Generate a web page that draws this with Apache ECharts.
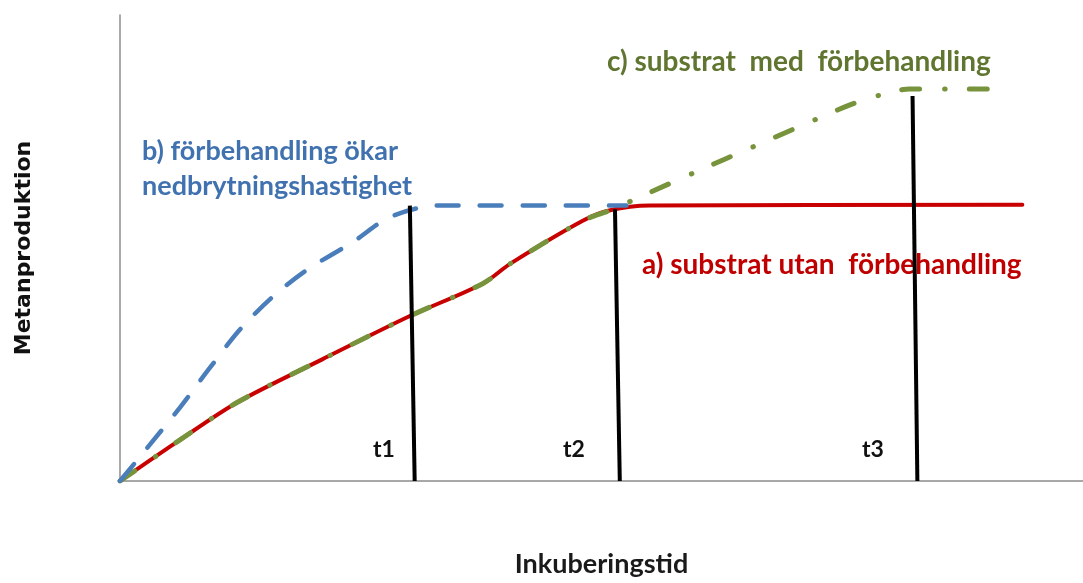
<!DOCTYPE html>
<html>
<head>
<meta charset="utf-8">
<script src="https://cdn.jsdelivr.net/npm/echarts@6/dist/echarts.min.js"></script>
<style>html,body{margin:0;padding:0;background:#fff;overflow:hidden}#c{width:1083px;height:583px}</style>
</head>
<body>
<div id="c"></div>
<script>
// a) substrat utan förbehandling (red)
const redX = [0, 6, 12.2, 21, 30.1, 37.7, 40.5, 48.1, 50.9, 55.0, 93.7];
const redY = [0, 8.5, 16.9, 26.1, 35.4, 42.4, 46.6, 55.9, 58.1, 59.1, 59.3];
// b) förbehandling ökar nedbrytningshastighet (blue)
const blueX = [0, 3.1, 6.2, 9.3, 12.5, 15.9, 19.4, 24.2, 28.0, 32.9, 52.6];
const blueY = [0, 7.8, 15.7, 24.2, 32.6, 39.6, 45.3, 51.3, 56.6, 59.1, 59.1];
// c) substrat med förbehandling (green)
const greenX = [0, 6, 12.2, 21, 30.1, 37.7, 40.5, 48.1, 50.9, 55.0, 60.2, 65.4, 70.6, 75.8, 78.9, 82.0, 91.6];
const greenY = [0, 8.5, 16.9, 26.1, 35.4, 42.4, 46.6, 55.9, 58.1, 61.9, 66.7, 71.4, 76.1, 80.7, 82.8, 84.1, 84.1];
// time markers
const tNames = ['t1', 't2', 't3'];
const tTopX = [30.1, 51.4, 82.3];
const tBottomX = [30.6, 51.9, 82.8];
const tTopY = [59.1, 58.3, 82.6];

const zip = (xs, ys) => xs.map((x, i) => [x, ys[i]]);
const font = 'Lato, "Open Sans", sans-serif';

const markerSeries = tNames.map((n, i) => ({
  type: 'line', name: n, silent: true, symbol: 'none', z: 6,
  data: [[tTopX[i], tTopY[i]], [tBottomX[i], 0]],
  lineStyle: {color: '#000', width: 4}
}));

const chart = echarts.init(document.getElementById('c'), null, {renderer: 'canvas', width: 1083, height: 583});
chart.setOption({
  animation: false,
  backgroundColor: '#fff',
  grid: {left: 120, width: 963, top: 15, height: 472},
  xAxis: {
    type: 'value', min: 0, max: 100,
    axisLine: {show: true, onZero: false, lineStyle: {color: '#8c8c8c', width: 1.5}},
    axisTick: {show: false}, axisLabel: {show: false}, splitLine: {show: false},
    name: 'Inkuberingstid', nameLocation: 'middle', nameGap: 70,
    nameTextStyle: {fontFamily: font, fontWeight: 'bold', fontSize: 27, color: '#1a1a1a'}
  },
  yAxis: {
    type: 'value', min: 0, max: 100,
    axisLine: {show: true, onZero: false, lineStyle: {color: '#8c8c8c', width: 1.5}},
    axisTick: {show: false}, axisLabel: {show: false}, splitLine: {show: false},
    name: 'Metanproduktion', nameLocation: 'middle', nameGap: 85, nameRotate: 90,
    nameTextStyle: {fontFamily: '"DejaVu Sans", sans-serif', fontWeight: 'bold', fontSize: 22, color: '#111'}
  },
  series: [
    {type: 'line', name: 'a', symbol: 'none', smooth: 0.3, z: 3,
     data: zip(redX, redY), lineStyle: {color: '#c80000', width: 4, cap: 'round'}},
    {type: 'line', name: 'c', symbol: 'none', smooth: 0.3, z: 4,
     data: zip(greenX, greenY), lineStyle: {color: '#77933c', width: 5, cap: 'round', type: [18, 25, 0.5, 24]}},
    {type: 'line', name: 'b', symbol: 'none', smooth: 0.3, z: 5,
     data: zip(blueX, blueY), lineStyle: {color: '#4a7ebb', width: 4.5, cap: 'round', type: [22, 21]}},
    ...markerSeries
  ],
  graphic: [
    {type: 'text', left: 607, top: 48, style: {text: 'c) substrat  med  förbehandling', fontFamily: font, fontWeight: 'bold', fontSize: 28, fill: '#5f7530'}},
    {type: 'text', left: 142, top: 134, style: {text: 'b) förbehandling ökar\nnedbrytningshastighet', fontFamily: font, fontWeight: 'bold', fontSize: 27, lineHeight: 35, fill: '#4072b0'}},
    {type: 'text', left: 642, top: 251, style: {text: 'a) substrat utan  förbehandling', fontFamily: font, fontWeight: 'bold', fontSize: 28, fill: '#c00000'}},
    {type: 'text', left: 373, top: 438, style: {text: 't1', fontFamily: font, fontWeight: 'bold', fontSize: 23, fill: '#111'}},
    {type: 'text', left: 563, top: 438, style: {text: 't2', fontFamily: font, fontWeight: 'bold', fontSize: 23, fill: '#111'}},
    {type: 'text', left: 862, top: 438, style: {text: 't3', fontFamily: font, fontWeight: 'bold', fontSize: 23, fill: '#111'}}
  ]
});
</script>
</body>
</html>
